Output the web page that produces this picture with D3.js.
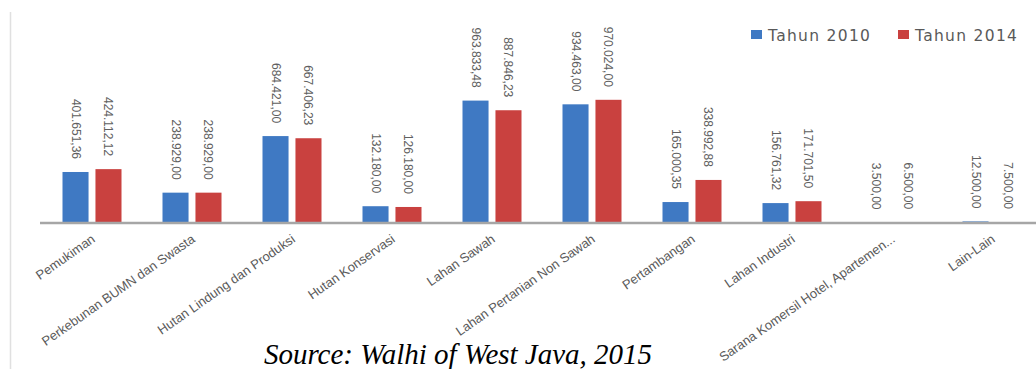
<!DOCTYPE html>
<html>
<head>
<meta charset="utf-8">
<script src="https://cdn.jsdelivr.net/npm/d3@7"></script>
<style>
  body { margin: 0; background: #fff; }
  svg { display: block; }
</style>
</head>
<body>
<svg id="chart"></svg>
<script>
// land use per category, hectares
const categories = [
  "Pemukiman",
  "Perkebunan BUMN dan Swasta",
  "Hutan Lindung dan Produksi",
  "Hutan Konservasi",
  "Lahan Sawah",
  "Lahan Pertanian Non Sawah",
  "Pertambangan",
  "Lahan Industri",
  "Sarana Komersil Hotel, Apartemen...",
  "Lain-Lain"
]
const seriesNames = ["Tahun 2010", "Tahun 2014"]
const values2010 = [401651.36, 238929.00, 684421.00, 132180.00, 963833.48, 934463.00, 165000.35, 156761.32, 3500.00, 12500.00]
const values2014 = [424112.12, 238929.00, 667406.23, 126180.00, 887846.23, 970024.00, 338992.88, 171701.50, 6500.00, 7500.00]
const colors = ["#3f79c3", "#c9413f"]
const sourceText = "Source: Walhi of West Java, 2015"

const W = 1036, H = 369
const baseY = 223

const svg = d3.select("#chart")
  .attr("width", W)
  .attr("height", H)

// indonesian number format: 401.651,36
const idLocale = d3.formatLocale({decimal: ",", thousands: ".", grouping: [3], currency: ["", ""]})
const fmt = idLocale.format(",.2f")

const x0 = d3.scaleBand().domain(categories).range([42, 1042])
const x1 = d3.scaleBand().domain(seriesNames).range([20.5, 79.5]).paddingInner(0.21)
const y = d3.scaleLinear().domain([0, 1000000]).range([baseY, 96])

const rows = categories.map((c, i) => ({cat: c, vals: [values2010[i], values2014[i]]}))

//faint frame edge on the left of the pasted chart
svg.append("line")
  .attr("x1", 10.5).attr("x2", 10.5)
  .attr("y1", 12).attr("y2", H)
  .attr("stroke", "#e0e0e0")
  .attr("stroke-width", 1.5)

const groups = svg.append("g")
  .selectAll("g")
  .data(rows)
  .join("g")
  .attr("transform", d => `translate(${x0(d.cat)},0)`)

groups.selectAll("rect")
  .data(d => d.vals.map((v, j) => ({name: seriesNames[j], v, j})))
  .join("rect")
  .attr("x", d => x1(d.name))
  .attr("width", x1.bandwidth())
  .attr("y", d => y(d.v))
  .attr("height", d => baseY - y(d.v))
  .attr("fill", d => colors[d.j])

//value labels, vertical
groups.selectAll("text")
  .data(d => d.vals.map((v, j) => ({name: seriesNames[j], v, j})))
  .join("text")
  .attr("transform", d => `translate(${x1(d.name) + x1.bandwidth() / 2},${y(d.v) - 13}) rotate(90)`)
  .attr("text-anchor", "end")
  .attr("dominant-baseline", "central")
  .attr("font-family", "Liberation Sans Narrow, Liberation Sans, Arial, sans-serif")
  .attr("font-size", 12)
  .attr("fill", "#606060")
  .text(d => fmt(d.v))

//axis baseline
svg.append("line")
  .attr("x1", 40).attr("x2", W)
  .attr("y1", baseY).attr("y2", baseY)
  .attr("stroke", "#a6a6a6")
  .attr("stroke-width", 2.5)

//category labels
svg.append("g")
  .selectAll("text")
  .data(categories)
  .join("text")
  .attr("transform", d => `translate(${x0(d) + x0.bandwidth() / 2 + 4},${baseY + 18}) rotate(-35)`)
  .attr("text-anchor", "end")
  .attr("font-family", "Liberation Sans, Arial, sans-serif")
  .attr("font-size", 13)
  .attr("fill", "#5a5a5a")
  .text(d => d)

//legend
const legend = svg.append("g")
  .selectAll("g")
  .data(seriesNames)
  .join("g")
  .attr("transform", (d, i) => `translate(${751 + i * 147},35)`)

legend.append("rect")
  .attr("x", 0).attr("y", -5)
  .attr("width", 11).attr("height", 9)
  .attr("fill", (d, i) => colors[i])

legend.append("text")
  .attr("x", 17)
  .attr("dy", "0.36em")
  .attr("font-family", "DejaVu Sans, sans-serif")
  .attr("font-size", 15.5)
  .attr("letter-spacing", 1.3)
  .attr("fill", "#595959")
  .text(d => d)

//source line under the figure
svg.append("text")
  .attr("x", 458)
  .attr("y", 364)
  .attr("text-anchor", "middle")
  .attr("font-family", "Liberation Serif, Times New Roman, serif")
  .attr("font-style", "italic")
  .attr("font-size", 29)
  .attr("fill", "#000")
  .text(sourceText)
</script>
</body>
</html>
